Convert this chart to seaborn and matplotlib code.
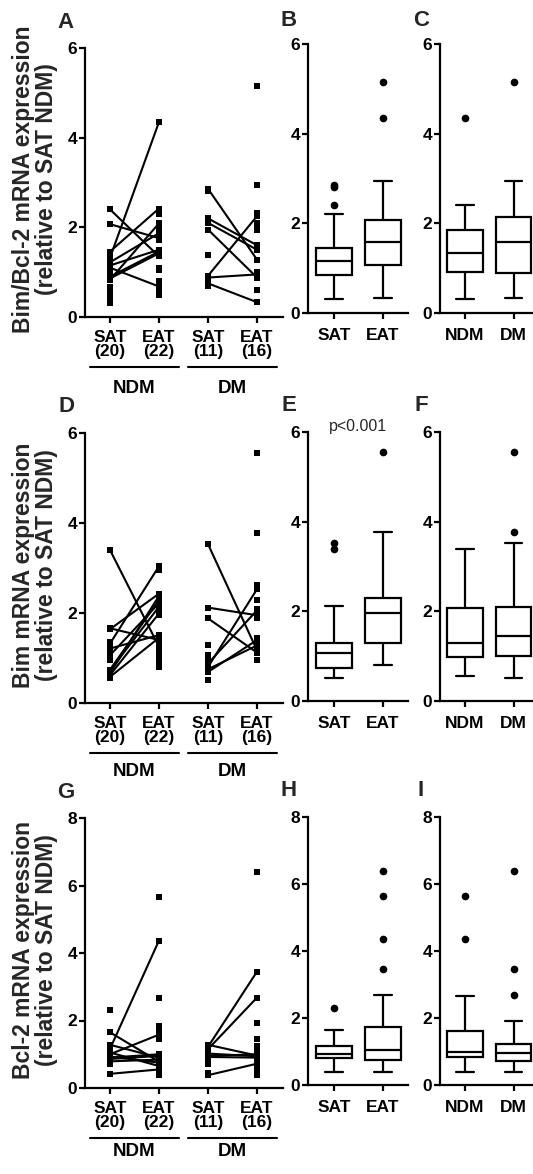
import matplotlib
matplotlib.use("Agg")
import matplotlib.pyplot as plt
from matplotlib import font_manager
import seaborn as sns
import pandas as pd

W, H = 533, 1174

# ---------------- data ----------------
group_ticklabels = ["SAT\n(20)", "EAT\n(22)", "SAT\n(11)", "EAT\n(16)"]
group_names = ["NDM", "DM"]
tissue_order = ["SAT", "EAT"]
diabetes_order = ["NDM", "DM"]

# Bim/Bcl-2 ratio
ratio_sat_ndm = [2.40, 2.07, 1.46, 1.42, 1.36, 1.32, 1.28, 1.22, 1.18, 1.15,
                 1.10, 1.05, 0.98, 0.90, 0.86, 0.83, 0.68, 0.55, 0.45, 0.32]
ratio_eat_ndm = [4.35, 2.42, 2.38, 2.30, 2.09, 2.00, 1.95, 1.90, 1.87, 1.76, 1.72,
                 1.50, 1.46, 1.42, 1.40, 1.35, 1.10, 1.05, 0.80, 0.68, 0.55, 0.48]
ratio_sat_dm = [2.86, 2.80, 2.20, 2.10, 1.95, 1.38, 0.92, 0.88, 0.80, 0.75, 0.70]
ratio_eat_dm = [5.15, 2.95, 2.32, 2.25, 2.10, 2.05, 1.95, 1.60, 1.58, 1.50, 1.28,
                1.00, 0.95, 0.88, 0.60, 0.33]
ratio_pairs_ndm = [(1.32, 4.35), (2.40, 1.35), (2.07, 1.76), (1.46, 2.42), (1.22, 1.87),
                   (1.10, 0.68), (0.90, 1.46), (0.83, 2.09), (0.86, 1.42), (1.15, 1.50)]
ratio_pairs_dm = [(2.86, 1.28), (2.20, 1.60), (2.10, 1.50), (1.95, 0.88), (0.92, 2.25),
                  (0.88, 0.95), (0.75, 0.33)]

# Bim
bim_sat_ndm = [3.40, 1.66, 1.64, 1.36, 1.32, 1.25, 1.21, 1.18, 1.15, 1.10,
               1.06, 1.02, 0.95, 0.74, 0.70, 0.72, 0.66, 0.62, 0.58, 0.55]
bim_eat_ndm = [3.04, 2.95, 2.43, 2.38, 2.32, 2.29, 2.22, 2.18, 2.14, 2.10, 1.99,
               1.95, 1.51, 1.45, 1.40, 1.36, 1.25, 1.15, 1.06, 0.96, 0.90, 0.80]
bim_sat_dm = [3.53, 2.12, 1.88, 1.28, 1.06, 0.95, 0.88, 0.80, 0.75, 0.69, 0.51]
bim_eat_dm = [5.55, 3.78, 2.62, 2.53, 2.30, 2.08, 2.06, 2.02, 1.95, 1.90, 1.45,
              1.40, 1.28, 1.17, 1.12, 0.95]
bim_pairs_ndm = [(3.40, 1.25), (1.66, 1.40), (1.64, 2.43), (1.32, 3.04), (1.21, 1.51),
                 (0.74, 2.29), (0.72, 2.14), (0.62, 1.99), (0.58, 1.45), (0.66, 2.38),
                 (1.06, 2.22)]
bim_pairs_dm = [(3.53, 1.17), (2.12, 1.95), (1.88, 1.12), (0.80, 2.53), (0.88, 2.06),
                (0.75, 1.28), (0.69, 1.40)]

# Bcl-2
bcl_sat_ndm = [2.30, 1.65, 1.28, 1.20, 1.17, 1.16, 1.05, 1.00, 0.96, 0.93,
               0.92, 0.90, 0.88, 0.86, 0.84, 0.82, 0.79, 0.75, 0.70, 0.42]
bcl_eat_ndm = [5.65, 4.37, 2.67, 1.83, 1.80, 1.75, 1.70, 1.65, 1.62, 1.58, 1.52,
               1.45, 1.00, 0.95, 0.90, 0.84, 0.78, 0.75, 0.65, 0.55, 0.48, 0.40]
bcl_sat_dm = [1.28, 1.22, 1.15, 1.02, 0.95, 0.92, 0.88, 0.80, 0.72, 0.45, 0.38]
bcl_eat_dm = [6.40, 3.45, 2.68, 1.92, 1.45, 1.25, 1.10, 1.00, 0.96, 0.94, 0.90,
              0.72, 0.68, 0.64, 0.55, 0.39]
bcl_pairs_ndm = [(1.16, 4.37), (1.65, 0.78), (1.00, 1.58), (0.42, 0.55), (1.28, 0.90),
                 (0.90, 1.00), (0.86, 0.95), (0.79, 0.84), (1.05, 0.65), (0.93, 0.75)]
bcl_pairs_dm = [(1.22, 3.45), (1.15, 2.68), (1.28, 0.96), (1.02, 0.94), (0.95, 1.00),
                (0.92, 0.90), (0.38, 0.72)]

ylabels = ["Bim/Bcl-2 mRNA expression\n(relative to SAT NDM)",
           "Bim mRNA expression\n(relative to SAT NDM)",
           "Bcl-2 mRNA expression\n(relative to SAT NDM)"]
panel_letters = [["A", "B", "C"], ["D", "E", "F"], ["G", "H", "I"]]
p_text = "p<0.001"

# ---------------- style ----------------
sns.set_theme(style="ticks")
names = {f.name for f in font_manager.fontManager.ttflist}
NARROW = "Liberation Sans Narrow" in names
if NARROW:
    MAIN = ["Liberation Sans Narrow", "Liberation Sans", "DejaVu Sans"]
    TICK_FS, YLAB_FS, GRP_FS = 14, 18, 14.5
else:
    MAIN = ["Liberation Sans", "DejaVu Sans"]
    TICK_FS, YLAB_FS, GRP_FS = 12.5, 16.5, 13.5
plt.rcParams["font.family"] = MAIN
plt.rcParams["font.weight"] = "bold"
plt.rcParams["axes.linewidth"] = 1.6
LETTER_FAMILY = ["Liberation Sans", "DejaVu Sans"]

fig = plt.figure(figsize=(W / 100, H / 100), dpi=100)


def add_ax(x0, x1, y0, y1):
    return fig.add_axes([x0 / W, 1 - y1 / H, (x1 - x0) / W, (y1 - y0) / H])


def style_axis(ax, ymax, xpad):
    ax.set_ylim(0, ymax)
    ax.set_yticks(list(range(0, ymax + 1, 2)))
    ax.set_xlabel("")
    ax.set_ylabel("")
    sns.despine(ax=ax)
    for s in ("left", "bottom"):
        ax.spines[s].set_linewidth(1.6)
        ax.spines[s].set_color("black")
    ax.tick_params(axis="both", direction="out", length=4.5, width=1.6, color="black",
                   labelsize=TICK_FS, labelcolor="black")
    ax.tick_params(axis="y", pad=1)
    ax.tick_params(axis="x", pad=xpad)
    for lbl in ax.get_xticklabels() + ax.get_yticklabels():
        lbl.set_fontweight("bold")


def paired_panel(ax, sat_ndm, eat_ndm, sat_dm, eat_dm, pairs_ndm, pairs_dm, ymax, h_px, grp_off):
    pts = pd.DataFrame({
        "pos": [0] * len(sat_ndm) + [1] * len(eat_ndm) + [2] * len(sat_dm) + [3] * len(eat_dm),
        "value": sat_ndm + eat_ndm + sat_dm + eat_dm})
    rows = []
    pid = 0
    for off, pairs in ((0, pairs_ndm), (2, pairs_dm)):
        for s, e in pairs:
            rows.append((pid, off, s))
            rows.append((pid, off + 1, e))
            pid += 1
    lines = pd.DataFrame(rows, columns=["pair", "pos", "value"])
    sns.lineplot(data=lines, x="pos", y="value", units="pair", estimator=None,
                 color="black", linewidth=1.5, ax=ax, legend=False)
    sns.scatterplot(data=pts, x="pos", y="value", marker="s", color="black", s=24,
                    linewidth=0, ax=ax, legend=False, zorder=3)
    ax.set_xlim(-0.51, 3.53)
    ax.set_xticks(range(4))
    ax.set_xticklabels(group_ticklabels)
    style_axis(ax, ymax, 5.0)
    for lbl in ax.get_xticklabels():
        lbl.set_linespacing(0.9)
    trans = ax.get_xaxis_transform()
    for c, lab in zip((0.5, 2.5), group_names):
        ax.plot([c - 0.91, c + 0.91], [-50 / h_px] * 2, transform=trans, color="black",
                lw=1.5, clip_on=False)
        ax.text(c, -grp_off / h_px, lab, transform=trans, ha="center", va="center",
                fontsize=GRP_FS, fontweight="bold", color="black")


def box_panel(ax, df, col, order, ymax, xlim):
    sns.boxplot(data=df, x=col, y="value", order=order, width=0.73, color="white",
                linecolor="black", linewidth=1.6, fliersize=4.5, whis=1.5,
                flierprops=dict(marker="o", markerfacecolor="black",
                                markeredgecolor="black"), ax=ax)
    ax.set_xlim(*xlim)
    style_axis(ax, ymax, 6.5)


datasets = [
    (ratio_sat_ndm, ratio_eat_ndm, ratio_sat_dm, ratio_eat_dm, ratio_pairs_ndm, ratio_pairs_dm, 6),
    (bim_sat_ndm, bim_eat_ndm, bim_sat_dm, bim_eat_dm, bim_pairs_ndm, bim_pairs_dm, 6),
    (bcl_sat_ndm, bcl_eat_ndm, bcl_sat_dm, bcl_eat_dm, bcl_pairs_ndm, bcl_pairs_dm, 8),
]
# pixel frames: (paired y0, y1), (box y0, y1)
frames = [((48, 317), (44, 313)), ((433, 703), (432, 701)), ((818, 1088), (817, 1085))]
grp_offsets = [72, 68, 63]

for r, (data, (pf, bf)) in enumerate(zip(datasets, frames)):
    sat_ndm, eat_ndm, sat_dm, eat_dm, pairs_ndm, pairs_dm, ymax = data
    axp = add_ax(85, 283, pf[0], pf[1])
    paired_panel(axp, sat_ndm, eat_ndm, sat_dm, eat_dm, pairs_ndm, pairs_dm, ymax,
                 pf[1] - pf[0], grp_offsets[r])

    df_t = pd.DataFrame({"tissue": ["SAT"] * (len(sat_ndm) + len(sat_dm)) + ["EAT"] * (len(eat_ndm) + len(eat_dm)),
                         "value": sat_ndm + sat_dm + eat_ndm + eat_dm})
    df_d = pd.DataFrame({"diabetes": ["NDM"] * (len(sat_ndm) + len(eat_ndm)) + ["DM"] * (len(sat_dm) + len(eat_dm)),
                         "value": sat_ndm + eat_ndm + sat_dm + eat_dm})
    axb = add_ax(308, 408, bf[0], bf[1])
    box_panel(axb, df_t, "tissue", tissue_order, ymax, (-0.53, 1.51))
    axc = add_ax(440, 533, bf[0], bf[1])
    box_panel(axc, df_d, "diabetes", diabetes_order, ymax, (-0.51, 1.40))

    # y label
    yc = (pf[0] + pf[1]) / 2 - 3
    fig.text(35 / W, 1 - yc / H, ylabels[r], rotation=90, ha="center", va="center",
             multialignment="center", fontsize=YLAB_FS, fontweight="bold", linespacing=1.0)
    # panel letters
    for xl, lab, yoff in zip((66, 289, 421), panel_letters[r], (26, 27, 27)):
        fig.text(xl / W, 1 - (pf[0] - yoff) / H, lab, ha="center", va="center",
                 fontsize=16, fontweight="bold", family=LETTER_FAMILY)
    if r == 1:
        fig.text(358 / W, 1 - 427 / H, p_text, ha="center", va="center", fontsize=11.5,
                 fontweight="normal", family=LETTER_FAMILY)

fig.savefig("out.png", dpi=100)
